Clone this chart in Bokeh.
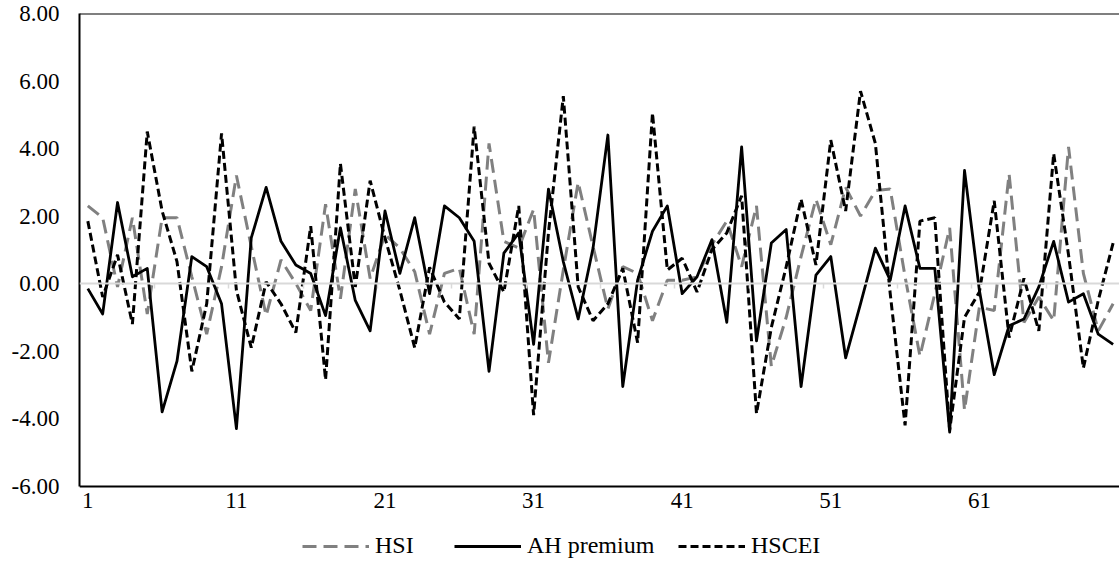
from bokeh.plotting import figure
from bokeh.models import (Range1d, LinearAxis, FixedTicker, NumeralTickFormatter,
                          Span, Legend, LegendItem, ColumnDataSource)
from bokeh.embed import file_html
from bokeh.resources import INLINE

periods = list(range(1, 71))
x_ticks = [1, 11, 21, 31, 41, 51, 61]
y_ticks = [-6, -4, -2, 0, 2, 4, 6, 8]
zero_line_ticks = [k + 0.5 for k in range(5, 70, 5)]

hsi = [2.3, 1.95, -0.1, 1.95, -0.9, 1.95, 1.95, 0.2, -1.5, 0.5,
       3.2, 1.1, -0.95, 0.7, 0.0, -0.8, 2.35, -0.45, 2.8, 0.15,
       1.45, 1.05, 0.35, -1.5, 0.3, 0.45, -1.5, 4.15, 1.25, 1.05,
       2.2, -2.35, 0.4, 3.0, 1.1, -0.75, 0.5, 0.3, -1.1, 0.1,
       0.1, 0.2, 1.15, 1.85, 0.5, 2.3, -2.45, -1.0, 0.8, 2.5,
       1.15, 2.85, 2.0, 2.75, 2.8, 0.2, -2.15, -0.3, 1.65, -3.75,
       -0.7, -0.8, 3.25, -1.15, -0.4, -1.1, 4.05, 0.3, -1.4, -0.6]

ah_premium = [-0.15, -0.9, 2.4, 0.2, 0.45, -3.8, -2.3, 0.8, 0.5, -0.6,
              -4.3, 1.35, 2.85, 1.25, 0.55, 0.3, -0.95, 1.65, -0.5, -1.4,
              2.15, 0.3, 1.95, -0.3, 2.3, 1.95, 1.25, -2.6, 0.9, 1.5,
              -1.8, 2.8, 0.65, -1.05, 1.05, 4.4, -3.05, 0.1, 1.55, 2.3,
              -0.3, 0.2, 1.3, -1.15, 4.05, -1.7, 1.2, 1.6, -3.05, 0.25,
              0.8, -2.2, -0.6, 1.05, 0.1, 2.3, 0.45, 0.45, -4.4, 3.35,
              -0.2, -2.7, -1.25, -1.05, -0.1, 1.25, -0.55, -0.3, -1.5, -1.8]

hscei = [1.85, -0.4, 0.85, -1.2, 4.5, 2.15, 0.65, -2.6, -0.6, 4.45,
         -0.2, -1.9, 0.05, -0.6, -1.45, 1.7, -2.85, 3.55, -0.1, 3.05,
         1.35, -0.2, -1.9, 0.48, -0.55, -1.05, 4.65, 0.6, -0.25, 2.3,
         -3.9, 1.5, 5.55, -0.1, -1.1, -0.6, 0.45, -1.75, 5.05, 0.4,
         0.75, -0.25, 1.0, 1.5, 2.6, -3.85, -1.3, 0.5, 2.5, 0.55,
         4.25, 2.15, 5.7, 4.15, -0.3, -4.2, 1.85, 1.95, -4.35, -1.0,
         -0.25, 2.45, -1.6, 0.15, -1.4, 3.85, 0.85, -2.5, -0.5, 1.2]

FONT = "Liberation Serif"
Y_MIN, Y_MAX = -6, 8

src = ColumnDataSource(dict(x=periods, hsi=hsi, ah=ah_premium, hscei=hscei))

# frame spans down to the bottom of the canvas so the legend can live inside it
p = figure(width=1119, height=572, output_backend="svg", toolbar_location=None,
           x_range=Range1d(0.44, 70.43), y_range=Range1d(-8.56, Y_MAX),
           x_axis_type=None, y_axis_type=None,
           min_border_left=79, min_border_right=0, min_border_top=13, min_border_bottom=0)
p.outline_line_color = None
p.xgrid.visible = False
p.ygrid.visible = False
p.background_fill_color = "white"
p.border_fill_color = "white"

yaxis = LinearAxis(ticker=FixedTicker(ticks=y_ticks),
                   formatter=NumeralTickFormatter(format="0.00"),
                   bounds=(Y_MIN, Y_MAX))
yaxis.axis_line_color = "black"
yaxis.axis_line_width = 2
yaxis.major_tick_out = 0
yaxis.major_tick_in = 0
yaxis.minor_tick_out = 0
yaxis.minor_tick_in = 0
yaxis.major_label_standoff = 20
yaxis.major_label_text_font = FONT
yaxis.major_label_text_font_size = "23px"
yaxis.major_label_text_color = "black"
p.add_layout(yaxis, "left")

# zero line with its small tick marks
p.add_layout(Span(location=0, dimension="width", line_color="#d9d9d9", line_width=2))
zaxis = LinearAxis(ticker=FixedTicker(ticks=zero_line_ticks), fixed_location=0)
zaxis.axis_line_color = None
zaxis.major_tick_line_color = "#d9d9d9"
zaxis.major_tick_line_width = 1.5
zaxis.major_tick_out = 5
zaxis.major_tick_in = 0
zaxis.minor_tick_out = 0
zaxis.minor_tick_in = 0
zaxis.major_label_text_font_size = "0px"
zaxis.major_label_text_alpha = 0
p.add_layout(zaxis, "below")

xaxis = LinearAxis(ticker=FixedTicker(ticks=x_ticks), fixed_location=Y_MIN)
xaxis.axis_line_color = "black"
xaxis.axis_line_width = 2
xaxis.major_tick_out = 0
xaxis.major_tick_in = 0
xaxis.minor_tick_out = 0
xaxis.minor_tick_in = 0
xaxis.major_label_standoff = 7
xaxis.major_label_text_font = FONT
xaxis.major_label_text_font_size = "23px"
xaxis.major_label_text_color = "black"
p.add_layout(xaxis, "below")

# top border
p.add_layout(Span(location=Y_MAX, dimension="width", line_color="black", line_width=2))

r_hsi = p.line("x", "hsi", source=src, line_color="#808080", line_width=3,
               line_dash="14 7")
r_ah = p.line("x", "ah", source=src, line_color="black", line_width=2.8,
              line_join="round")
r_hscei = p.line("x", "hscei", source=src, line_color="black", line_width=3,
                 line_dash="8 4")

def make_legend(label, renderer, xloc):
    lg = Legend(items=[LegendItem(label=label, renderers=[renderer])],
                location=(xloc, 13), orientation="horizontal",
                glyph_width=67, glyph_height=24, label_height=24,
                label_standoff=6, padding=0, margin=0, spacing=0,
                border_line_color=None, background_fill_alpha=0,
                label_text_font=FONT, label_text_font_size="24px",
                label_text_color="black")
    p.add_layout(lg, "center")

make_legend("HSI", r_hsi, 223)
make_legend("AH premium", r_ah, 375)
make_legend("HSCEI", r_hscei, 599)

open("out.html", "w").write(file_html(p, INLINE))
